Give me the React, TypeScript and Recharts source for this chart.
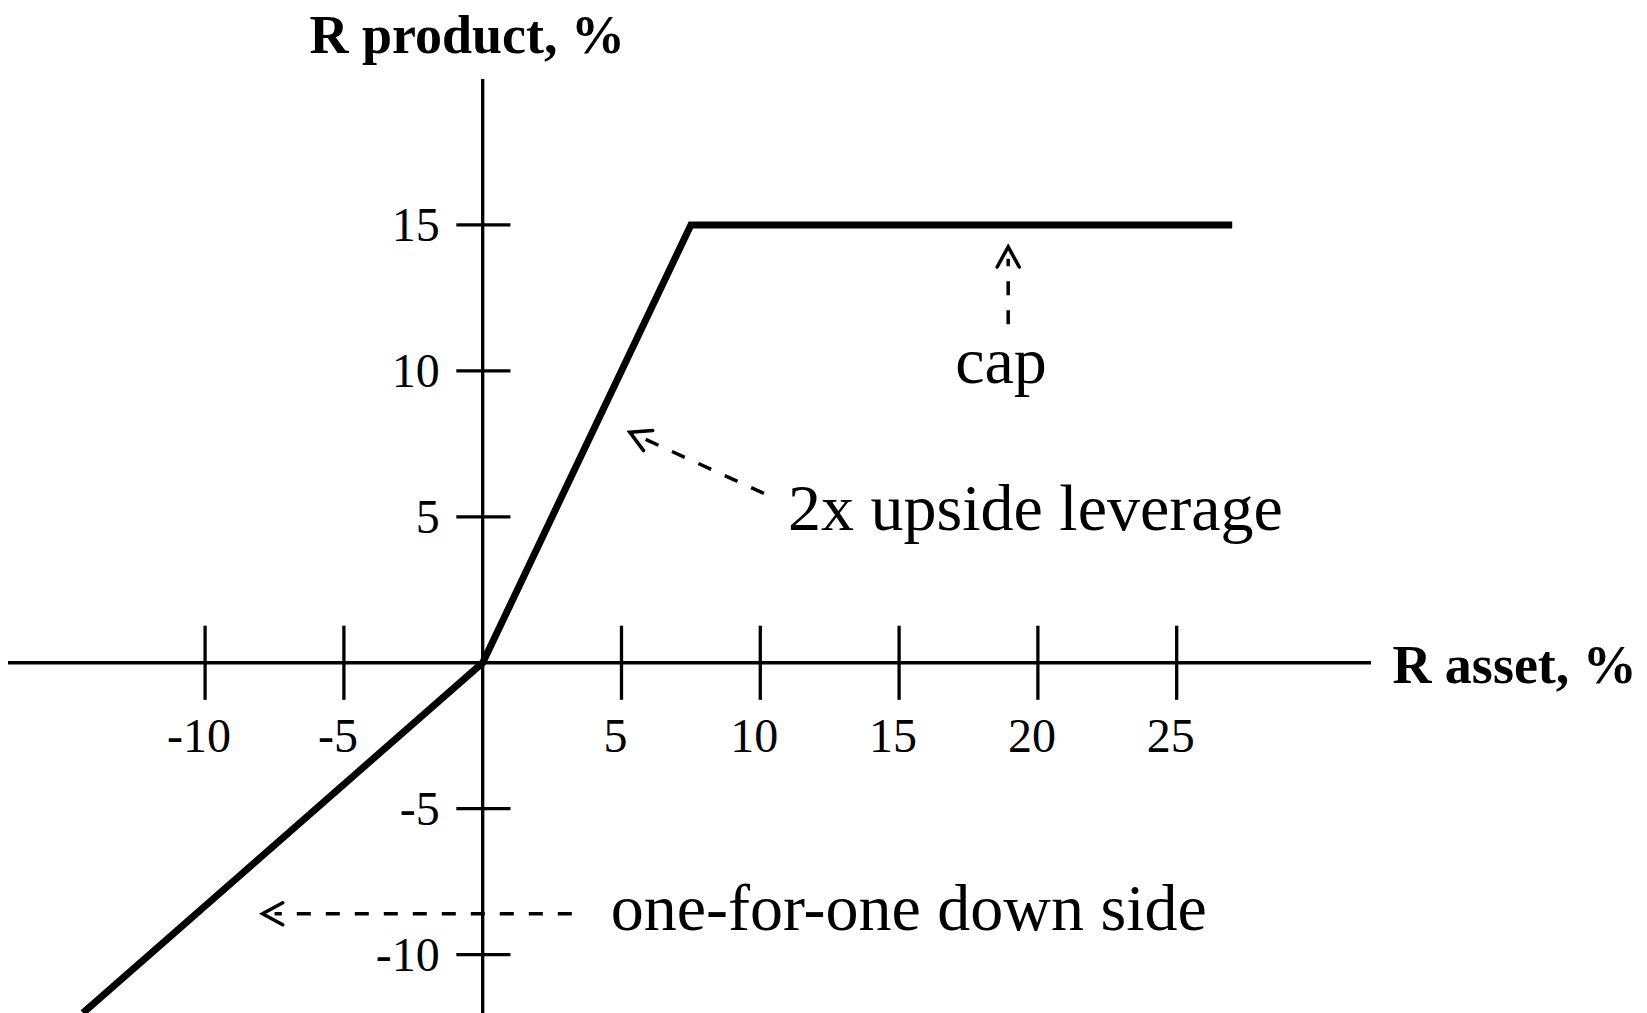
import { Line, LineChart, ReferenceDot, ReferenceLine, XAxis, YAxis } from "recharts"

// payoff of the capped, 2x-leveraged product vs the asset return (%)
const assetReturn = [-14.4, 0, 7.5, 27]
const productReturn = [-12, 0, 15, 15]

const xTicks = [-10, -5, 5, 10, 15, 20, 25]
const yTicks = [-10, -5, 5, 10, 15]

const payoff = assetReturn.map((x, i) => ({ x, y: productReturn[i] }))

const FONT = '"Liberation Serif", "Times New Roman", serif'

const textShape =
  (label: string, size: number, anchor: "start" | "middle" | "end", bold = false, dx = 0, dy = 0) =>
  (p: any) => (
    <text
      x={p.cx + dx}
      y={p.cy + dy}
      textAnchor={anchor}
      fontSize={size}
      fontWeight={bold ? "bold" : "normal"}
      fontFamily={FONT}
      fill="#000"
    >
      {label}
    </text>
  )

// dashed pointer with an open arrow head at the second point
const arrowShape = (p: any) => {
  const { x1, y1, x2, y2 } = p
  const ang = Math.atan2(y2 - y1, x2 - x1)
  const len = 23
  const spread = 0.5
  const a1 = ang + Math.PI - spread
  const a2 = ang + Math.PI + spread
  const head = `${x2 + len * Math.cos(a1)},${y2 + len * Math.sin(a1)} ${x2},${y2} ${x2 + len * Math.cos(a2)},${y2 + len * Math.sin(a2)}`
  return (
    <g>
      <line
        x1={x1}
        y1={y1}
        x2={x2 + 12 * Math.cos(ang + Math.PI)}
        y2={y2 + 12 * Math.sin(ang + Math.PI)}
        stroke="#000"
        strokeWidth={3.5}
        strokeDasharray="14 15"
      />
      <polyline points={head} fill="none" stroke="#000" strokeWidth={3.5} strokeLinecap="round" />
    </g>
  )
}

export default function App() {
  return (
    <div style={{ position: "relative", top: -8, left: -8, width: 1647, height: 1013 }}>
      <LineChart
        width={1647}
        height={1013}
        data={payoff}
        margin={{ top: 79, right: 276, bottom: 0, left: 8 }}
      >
        <XAxis type="number" dataKey="x" domain={[-17.1, 32]} allowDataOverflow hide />
        <YAxis type="number" domain={[-12, 20]} allowDataOverflow hide />

        <ReferenceLine x={0} stroke="#000" strokeWidth={3.3} />
        <ReferenceLine y={0} stroke="#000" strokeWidth={3.3} />

        {xTicks.map((t) => (
          <ReferenceLine
            key={`xt${t}`}
            segment={[{ x: t, y: -1.27 }, { x: t, y: 1.27 }]}
            stroke="#000"
            strokeWidth={3.3}
          />
        ))}
        {yTicks.map((t) => (
          <ReferenceLine
            key={`yt${t}`}
            segment={[{ x: -0.95, y: t }, { x: 1, y: t }]}
            stroke="#000"
            strokeWidth={3.3}
          />
        ))}
        {xTicks.map((t) => (
          <ReferenceDot key={`xl${t}`} x={t} y={0} r={0} ifOverflow="visible" shape={textShape(String(t), 48, "middle", false, -6, 89)} />
        ))}
        {yTicks.map((t) => (
          <ReferenceDot key={`yl${t}`} x={0} y={t} r={0} ifOverflow="visible" shape={textShape(String(t), 48, "end", false, -43, 16)} />
        ))}

        <Line
          type="linear"
          dataKey="y"
          stroke="#000"
          strokeWidth={7}
          strokeLinejoin="miter"
          dot={false}
          activeDot={false}
          isAnimationActive={false}
        />

        <ReferenceLine segment={[{ x: 18.93, y: 11.6 }, { x: 18.93, y: 14.25 }]} shape={arrowShape} />
        <ReferenceLine segment={[{ x: 10.13, y: 5.8 }, { x: 5.3, y: 7.9 }]} shape={arrowShape} />
        <ReferenceLine segment={[{ x: 3.21, y: -8.6 }, { x: -7.93, y: -8.6 }]} shape={arrowShape} />

        <ReferenceDot x={18.67} y={9.59} r={0} ifOverflow="visible" shape={textShape("cap", 66, "middle")} />
        <ReferenceDot x={11.0} y={4.55} r={0} ifOverflow="visible" shape={textShape("2x upside leverage", 66, "start")} />
        <ReferenceDot x={4.61} y={-9.15} r={0} ifOverflow="visible" shape={textShape("one-for-one down side", 66, "start")} />

        <ReferenceDot x={-6.24} y={20.9} r={0} ifOverflow="visible" shape={textShape("R product, %", 54, "start", true)} />
        <ReferenceDot x={32.77} y={-0.69} r={0} ifOverflow="visible" shape={textShape("R asset, %", 54, "start", true)} />
      </LineChart>
    </div>
  )
}
